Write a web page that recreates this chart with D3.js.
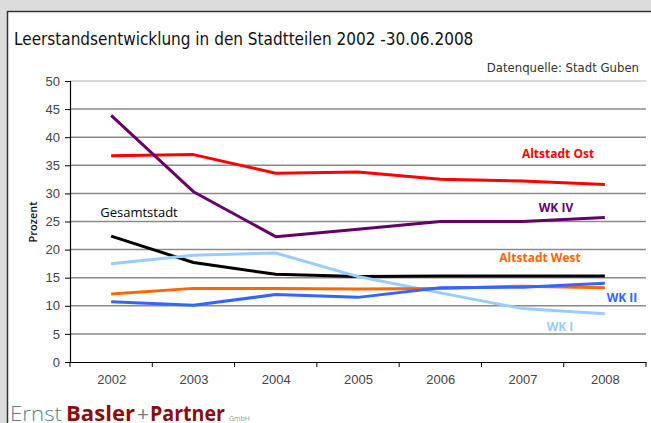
<!DOCTYPE html>
<html>
<head>
<meta charset="utf-8">
<script src="https://cdn.jsdelivr.net/npm/d3@7"></script>
<style>
  body { margin: 0; background: #dcdcdc; }
  svg { display: block; }
</style>
</head>
<body>
<svg id="chart"></svg>
<script>
// data
const years = ["2002", "2003", "2004", "2005", "2006", "2007", "2008"];
const altstadtOst = [36.7, 36.9, 33.6, 33.8, 32.5, 32.2, 31.6];
const wkIV = [43.9, 30.3, 22.3, 23.6, 25.0, 25.0, 25.7];
const gesamtstadt = [22.4, 17.7, 15.6, 15.2, 15.3, 15.3, 15.3];
const wkI = [17.5, 19.0, 19.4, 15.2, 12.3, 9.5, 8.6];
const altstadtWest = [12.1, 13.1, 13.1, 13.0, 13.1, 13.5, 13.2];
const wkII = [10.7, 10.1, 12.0, 11.5, 13.2, 13.3, 14.0];
const yTicks = [0, 5, 10, 15, 20, 25, 30, 35, 40, 45, 50];

const series = [
  {name: "Gesamtstadt", values: gesamtstadt, color: "#000000"},
  {name: "Altstadt Ost", values: altstadtOst, color: "#ff0000"},
  {name: "WK IV", values: wkIV, color: "#660066"},
  {name: "WK I", values: wkI, color: "#99ccff"},
  {name: "Altstadt West", values: altstadtWest, color: "#ff6600"},
  {name: "WK II", values: wkII, color: "#3366ff"}
];

const width = 651, height = 423;
const margin = {top: 81, right: 5, bottom: 61, left: 70};
const innerWidth = width - margin.left - margin.right;
const innerHeight = height - margin.top - margin.bottom;

const svg = d3.select("#chart").attr("width", width).attr("height", height);

// white panel, frame only on top and left (rest runs off the picture)
svg.append("rect")
  .attr("x", 7).attr("y", 11).attr("width", width - 7).attr("height", height - 11)
  .attr("fill", "#fff");
svg.append("path")
  .attr("d", `M7.5,${height}V11.5H${width}`)
  .attr("fill", "none").attr("stroke", "#333").attr("stroke-width", 1.5);

svg.append("text")
  .attr("x", 14).attr("y", 45)
  .style("font-family", "'Liberation Sans Narrow', 'DejaVu Sans Condensed', sans-serif")
  .style("font-size", "17px")
  .attr("fill", "#111")
  .text("Leerstandsentwicklung in den Stadtteilen 2002 -30.06.2008");

svg.append("text")
  .attr("x", 639).attr("y", 72)
  .attr("text-anchor", "end")
  .style("font-family", "'Liberation Sans Narrow', 'DejaVu Sans Condensed', sans-serif")
  .style("font-size", "13px")
  .attr("fill", "#333")
  .text("Datenquelle: Stadt Guben");

const g = svg.append("g").attr("transform", `translate(${margin.left},${margin.top})`);

const x = d3.scalePoint().domain(years).range([0, innerWidth]).padding(0.5);
const xBand = d3.scaleBand().domain(years).range([0, innerWidth]);
const y = d3.scaleLinear().domain([0, 50]).range([innerHeight, 0]);

// grid
g.selectAll(".grid").data(yTicks.filter(d => d > 0)).join("line")
  .attr("class", "grid")
  .attr("x1", 0).attr("x2", innerWidth)
  .attr("y1", d => y(d)).attr("y2", d => y(d))
  .attr("stroke", d => d === 50 ? "#cfcfcf" : "#8a8a8a")
  .attr("stroke-width", 1.5);

// y axis
const yAxis = g.append("g")
  .call(d3.axisLeft(y).tickValues(yTicks).tickSize(5).tickPadding(5));
yAxis.select(".domain").attr("stroke", "#000").attr("stroke-width", 1.2);
yAxis.selectAll(".tick line").attr("stroke", "#000");
yAxis.selectAll("text")
  .style("font-family", "'Liberation Sans', Arial, sans-serif")
  .style("font-size", "13px").attr("fill", "#444");

// x axis with ticks between categories
const xAxis = g.append("g").attr("transform", `translate(0,${innerHeight})`)
  .call(d3.axisBottom(x).tickSize(0).tickPadding(13));
xAxis.select(".domain").attr("stroke", "#000").attr("stroke-width", 1.2);
xAxis.selectAll("text")
  .style("font-family", "'Liberation Sans', Arial, sans-serif")
  .style("font-size", "13px").attr("fill", "#444");
g.selectAll(".xtick").data(years.concat(["end"])).join("line")
  .attr("class", "xtick")
  .attr("x1", (d, i) => i < years.length ? xBand(d) : innerWidth)
  .attr("x2", (d, i) => i < years.length ? xBand(d) : innerWidth)
  .attr("y1", innerHeight).attr("y2", innerHeight + 5)
  .attr("stroke", "#000");

svg.append("text")
  .attr("transform", "rotate(-90)")
  .attr("x", -222).attr("y", 37)
  .attr("text-anchor", "middle")
  .style("font-family", "'Open Sans', 'DejaVu Sans', sans-serif")
  .style("font-size", "11px")
  .style("font-weight", "600")
  .attr("fill", "#111")
  .text("Prozent");

// lines
const line = d3.line().x((d, i) => x(years[i])).y(d => y(d));
g.selectAll(".series").data(series).join("path")
  .attr("class", "series")
  .attr("d", d => line(d.values))
  .attr("fill", "none")
  .attr("stroke", d => d.color)
  .attr("stroke-width", 3)
  .attr("stroke-linejoin", "round");

// series labels
const labels = [
  {name: "Altstadt Ost", x: 558, y: 158, color: "#ff0000", bold: true},
  {name: "WK IV", x: 556, y: 212, color: "#660066", bold: true},
  {name: "Altstadt West", x: 540, y: 262, color: "#ff6600", bold: true},
  {name: "WK II", x: 622, y: 302, color: "#3366ff", bold: true},
  {name: "WK I", x: 560, y: 331, color: "#99ccff", bold: true},
  {name: "Gesamtstadt", x: 139, y: 217, color: "#000", bold: false}
];
svg.selectAll(".lbl").data(labels).join("text")
  .attr("class", "lbl")
  .attr("x", d => d.x).attr("y", d => d.y)
  .attr("text-anchor", "middle")
  .style("font-family", "'Open Sans', 'DejaVu Sans', sans-serif")
  .style("font-size", d => d.bold ? "12px" : "13px")
  .style("font-weight", d => d.bold ? "bold" : "normal")
  .attr("fill", d => d.color)
  .text(d => d.name);

// logo line
const logoParts = [
  {t: "Ernst", x: 10, w: 52, size: 21, weight: "300", color: "#5b8088"},
  {t: "Basler", x: 66, w: 69, size: 21, weight: "bold", color: "#8b0d0d"},
  {t: "+", x: 137, w: 12, size: 20, weight: "normal", color: "#777"},
  {t: "Partner", x: 150, w: 75, size: 21, weight: "bold", color: "#8b0d0d"},
  {t: "GmbH", x: 229, w: 21, size: 7, weight: "normal", color: "#999"}
];
svg.selectAll(".logo").data(logoParts).join("text")
  .attr("class", "logo")
  .attr("x", d => d.x).attr("y", 421)
  .attr("textLength", d => d.w)
  .attr("lengthAdjust", "spacingAndGlyphs")
  .style("font-family", "'Open Sans', 'DejaVu Sans', sans-serif")
  .style("font-size", d => d.size + "px")
  .style("font-weight", d => d.weight)
  .attr("fill", d => d.color)
  .text(d => d.t);
</script>
</body>
</html>
